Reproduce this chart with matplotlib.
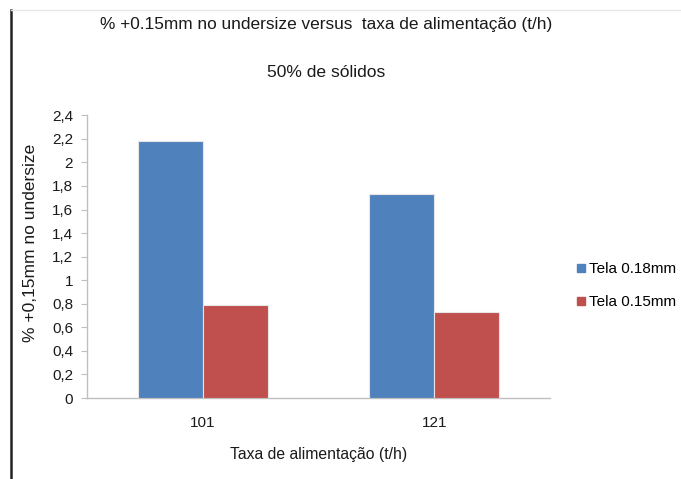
import matplotlib
matplotlib.use("Agg")
import matplotlib.pyplot as plt
from matplotlib.lines import Line2D
import numpy as np

plt.rcParams['font.family'] = ['Liberation Sans', 'DejaVu Sans']

categories = ["101", "121"]
series_names = ["Tela 0.18mm", "Tela 0.15mm"]
tela_018 = [2.18, 1.73]
tela_015 = [0.79, 0.73]
yticks = [0, 0.2, 0.4, 0.6, 0.8, 1, 1.2, 1.4, 1.6, 1.8, 2, 2.2, 2.4]
colors = ["#4F81BD", "#C0504D"]

fig = plt.figure(figsize=(6.81, 4.79), dpi=100)
ax = fig.add_axes([0.1278, 0.1691, 0.6798, 0.5902])

x = np.arange(len(categories))
w = 0.28
for i, (vals, name) in enumerate(zip([tela_018, tela_015], series_names)):
    ax.bar(x + (i - 0.5) * w, vals, width=w, color=colors[i],
           edgecolor="#e6e6e6", linewidth=0.8, label=name, zorder=3)

ax.set_xlim(-0.5, 1.5)
ax.set_ylim(0, 2.4)
ax.set_yticks(yticks)
ax.set_yticklabels([f"{t:g}".replace(".", ",") for t in yticks])
ax.set_xticks(x)
ax.set_xticklabels(categories)

for s in ["top", "right"]:
    ax.spines[s].set_visible(False)
for s in ["left", "bottom"]:
    ax.spines[s].set_color("#bfbfbf")
    ax.spines[s].set_linewidth(1.0)
ax.tick_params(axis="y", length=4, color="#bfbfbf", labelsize=11,
               labelcolor="#1a1a1a", pad=6)
ax.tick_params(axis="x", length=0, labelsize=11, labelcolor="#1a1a1a", pad=13)

ax.set_ylabel("% +0,15mm no undersize", fontsize=12.5, color="#1a1a1a")
ax.yaxis.set_label_coords(-0.105, 0.55)
ax.set_xlabel("Taxa de alimentação (t/h)", fontsize=11.3, color="#1a1a1a", labelpad=12)

fig.text(0.479, 0.948, "% +0.15mm no undersize versus  taxa de alimentação (t/h)",
         ha="center", va="center", fontsize=12.4, color="#1a1a1a")
fig.text(0.479, 0.848, "50% de sólidos", ha="center", va="center",
         fontsize=12.6, color="#1a1a1a")

handles = [Line2D([0], [0], marker="s", linestyle="none", markersize=5.5,
                  markerfacecolor=c, markeredgecolor=c) for c in colors]
fig.legend(handles, series_names, loc="center left",
           bbox_to_anchor=(0.842, 0.404), frameon=False, fontsize=11,
           handletextpad=0.0, labelspacing=1.25, handlelength=1.0,
           borderpad=0, borderaxespad=0)

# frame lines along the left and top edges
fig.add_artist(Line2D([0.0155, 0.0155], [0.0, 0.979], transform=fig.transFigure,
                      color="#222222", linewidth=1.8))
fig.add_artist(Line2D([0.0155, 0.998], [0.979, 0.979], transform=fig.transFigure,
                      color="#e8e8e8", linewidth=1.0))

fig.savefig("out.png", dpi=100)
